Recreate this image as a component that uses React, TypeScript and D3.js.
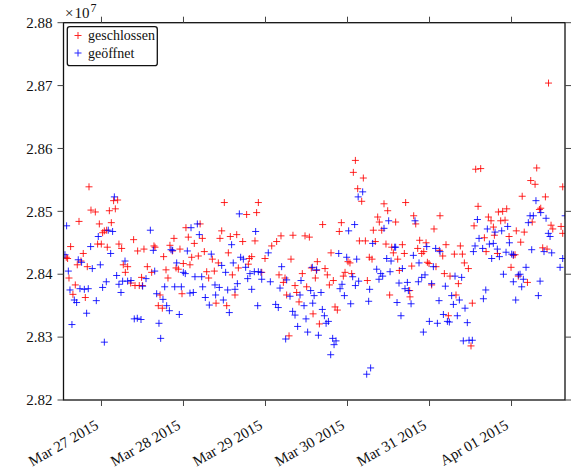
// App.tsx
// Scatter of two series (geschlossen / geöffnet) over dates, matplotlib-like look
import React, { useEffect, useRef } from "react";
import * as d3 from "d3";

// [days since 2015-03-26 00:00 UTC, value in units of 1e7]
const geschlossen: [number, number][] = [
  [0.848, 2.8539], [1.148, 2.8517], [1.197, 2.8518], [1.169, 2.8504], [0.872, 2.8502], [0.925, 2.8499],
  [1.096, 2.8501], [0.726, 2.8484], [0.974, 2.848], [1.12, 2.8482], [1.035, 2.8469], [1.014, 2.8466],
  [1.063, 2.847], [1.392, 2.8455], [0.624, 2.8444], [0.953, 2.8448], [0.998, 2.8448], [1.071, 2.8443],
  [1.213, 2.8448], [1.246, 2.8441], [1.441, 2.8437], [0.778, 2.8433], [0.571, 2.8427], [0.587, 2.8425],
  [0.705, 2.8415], [0.75, 2.8421], [0.827, 2.8412], [1.266, 2.8415], [1.319, 2.8412], [1.291, 2.8403],
  [0.604, 2.8394], [0.681, 2.8383], [1.356, 2.8386], [1.409, 2.8382], [1.461, 2.8382], [0.652, 2.8368],
  [0.803, 2.8363], [1.498, 2.8382], [1.489, 2.8395],
  [2.498, 2.8514], [2.203, 2.848], [2.03, 2.8474], [1.884, 2.8457], [2.059, 2.8459], [2.23, 2.8457],
  [2.466, 2.8469], [2.445, 2.8457], [2.132, 2.8449], [1.518, 2.844], [1.64, 2.8445], [1.653, 2.8443],
  [1.835, 2.8446], [1.864, 2.8437], [1.957, 2.844], [2.254, 2.8436], [1.758, 2.8428], [2.1, 2.8427],
  [2.181, 2.8429], [2.352, 2.8424], [2.425, 2.8418], [1.998, 2.8417], [2.079, 2.8415], [1.559, 2.8412],
  [1.787, 2.8407], [1.909, 2.841], [1.937, 2.8408], [1.612, 2.8403], [2.283, 2.8404], [2.376, 2.8405],
  [1.811, 2.8394], [2.307, 2.8394], [1.982, 2.8369], [1.714, 2.8367], [2.397, 2.8354], [1.693, 2.835],
  [1.742, 2.8346],
  [2.913, 2.8514], [2.77, 2.8495], [2.892, 2.8498], [2.571, 2.846], [2.649, 2.8463], [2.722, 2.8452],
  [2.872, 2.8453], [3.189, 2.8461], [3.335, 2.8462], [3.482, 2.8461], [3.535, 2.8459], [3.136, 2.8452],
  [3.076, 2.8445], [2.547, 2.8434], [2.832, 2.8428], [2.803, 2.8425], [2.994, 2.8425], [3.311, 2.8424],
  [2.669, 2.841], [2.791, 2.8416], [2.596, 2.8399], [2.954, 2.8403], [3.165, 2.8399], [3.449, 2.8401],
  [3.218, 2.8387], [3.36, 2.8382], [3.502, 2.838], [2.628, 2.8367], [2.527, 2.835], [3.258, 2.8367],
  [3.38, 2.8371], [3.409, 2.8356], [3.287, 2.8302], [3.238, 2.8394],
  [4.096, 2.8581], [4.071, 2.8562], [4.193, 2.8553], [4.124, 2.8536], [4.173, 2.8516], [4.445, 2.8512],
  [4.49, 2.8501], [4.368, 2.8491], [4.388, 2.8483], [3.697, 2.8479], [3.925, 2.8482], [3.9, 2.8468],
  [4.315, 2.847], [4.417, 2.847], [4.145, 2.8453], [4.218, 2.8453], [4.339, 2.8452], [4.469, 2.8448],
  [4.539, 2.8443], [4.559, 2.8434], [3.799, 2.8434], [3.632, 2.842], [4.006, 2.842], [4.03, 2.8418],
  [4.266, 2.8427], [4.299, 2.8424], [3.559, 2.841], [3.726, 2.8409], [3.62, 2.8406], [3.754, 2.8399],
  [3.97, 2.8403], [3.949, 2.8397], [4.051, 2.8401], [3.608, 2.8394], [3.827, 2.839], [3.779, 2.8383],
  [4.242, 2.839], [4.514, 2.8367], [3.58, 2.8337], [3.657, 2.8321], [3.848, 2.8348], [3.876, 2.8343],
  [5.563, 2.8567], [5.624, 2.8568], [4.709, 2.8514], [5.592, 2.8508], [4.807, 2.8493], [4.832, 2.848],
  [5.128, 2.8493], [5.055, 2.8472], [5.543, 2.8477], [4.587, 2.8483], [4.88, 2.8454], [4.958, 2.845],
  [4.669, 2.8447], [4.856, 2.8441], [4.905, 2.8433], [4.93, 2.8436], [5.201, 2.8447], [5.376, 2.8445],
  [4.693, 2.8433], [4.612, 2.8424], [5.12, 2.8438], [5.161, 2.8429], [5.303, 2.8432], [5.401, 2.8432],
  [4.974, 2.8419], [4.994, 2.8417], [5.079, 2.8412], [5.425, 2.8418], [5.474, 2.8409], [4.632, 2.8406],
  [4.783, 2.8413], [5.181, 2.8401], [5.25, 2.8397], [5.352, 2.8385], [5.026, 2.8383], [4.758, 2.8374],
  [4.762, 2.8364], [5.323, 2.8367], [5.522, 2.8354], [5.23, 2.8334], [5.506, 2.8286],
  [6.307, 2.8569], [6.234, 2.8549], [6.287, 2.8543], [6.13, 2.8524], [6.413, 2.8523], [6.356, 2.8505],
  [6.34, 2.8503], [5.718, 2.8491], [5.75, 2.8485], [5.84, 2.8499], [5.892, 2.85], [5.941, 2.8504],
  [5.868, 2.8485], [5.921, 2.8486], [5.779, 2.8475], [6.058, 2.8469], [6.155, 2.8467], [6.252, 2.8483],
  [5.669, 2.8458], [5.791, 2.8462], [5.97, 2.846], [6.112, 2.8451], [6.503, 2.8472], [6.482, 2.8478],
  [6.604, 2.8476], [6.624, 2.8465], [5.69, 2.8436], [5.828, 2.8433], [6.022, 2.843], [6.043, 2.8431],
  [6.38, 2.8442], [6.433, 2.844], [5.994, 2.8411], [6.083, 2.8397], [6.194, 2.8387], [6.624, 2.8539],
  [6.451, 2.8704],
];

const geoeffnet: [number, number][] = [
  [1.157, 2.8523], [0.575, 2.8477], [0.961, 2.846], [1.083, 2.847], [1.136, 2.8468], [0.868, 2.8444],
  [1.112, 2.8433], [0.555, 2.8431], [0.717, 2.8423], [0.758, 2.8419], [1.287, 2.8421], [0.986, 2.8415],
  [0.888, 2.8409], [0.596, 2.8405], [1.185, 2.8398], [1.059, 2.8388], [1.258, 2.8389], [1.319, 2.8389],
  [1.36, 2.839], [1.213, 2.8384], [0.616, 2.8375], [0.738, 2.8377], [0.791, 2.8376], [0.839, 2.8377],
  [1.014, 2.8379], [1.238, 2.8371], [0.669, 2.8359], [0.697, 2.8355], [0.937, 2.8358], [0.819, 2.8338],
  [0.64, 2.832], [1.4, 2.8329], [1.437, 2.833], [1.035, 2.8292],
  [1.596, 2.847], [2.169, 2.848], [2.092, 2.8474], [2.193, 2.8463], [1.632, 2.8438], [1.848, 2.8439],
  [1.868, 2.8438], [2.047, 2.8437], [2.339, 2.8432], [2.466, 2.8414], [1.917, 2.8418], [1.998, 2.8403],
  [2.022, 2.8401], [1.649, 2.8405], [1.543, 2.8393], [1.502, 2.8381], [2.14, 2.8396], [2.222, 2.8396],
  [1.771, 2.838], [1.893, 2.838], [1.974, 2.838], [2.234, 2.838], [2.384, 2.8383], [2.437, 2.8379],
  [1.673, 2.8369], [2.079, 2.837], [2.12, 2.8371], [2.392, 2.8367], [1.75, 2.836], [2.266, 2.8363],
  [2.486, 2.8359], [1.795, 2.835], [1.828, 2.8342], [2.315, 2.8351], [1.949, 2.8336], [1.482, 2.8328],
  [1.701, 2.8322], [1.722, 2.8298],
  [2.681, 2.8496], [2.88, 2.8468], [2.587, 2.8447], [2.697, 2.8427], [2.73, 2.8424], [2.607, 2.8418],
  [2.758, 2.8411], [2.514, 2.8403], [2.811, 2.8401], [2.864, 2.8404], [2.913, 2.8404], [2.945, 2.8403],
  [3.034, 2.8434], [2.954, 2.8392], [2.783, 2.8393], [2.657, 2.8385], [2.628, 2.8376], [2.539, 2.8375],
  [2.832, 2.8376], [3.059, 2.8388], [3.197, 2.8412], [3.177, 2.8378], [3.258, 2.8391], [3.299, 2.8365],
  [3.433, 2.839], [3.421, 2.8367], [3.47, 2.835], [2.559, 2.8339], [2.905, 2.835], [3.124, 2.8352],
  [3.156, 2.8347], [3.331, 2.8341], [3.36, 2.8335], [3.494, 2.8329], [3.392, 2.8317], [3.514, 2.8308],
  [3.246, 2.8297],
  [4.185, 2.8531], [4.13, 2.8523], [4.087, 2.8479], [4.014, 2.8469], [4.502, 2.8485], [4.445, 2.8473],
  [4.307, 2.8449], [4.575, 2.8443], [3.893, 2.8433], [3.99, 2.8427], [4.112, 2.8424], [4.478, 2.8425],
  [4.531, 2.8421], [3.571, 2.8411], [3.624, 2.8407], [4.063, 2.8396], [4.356, 2.8408], [4.405, 2.8401],
  [4.429, 2.8397], [4.519, 2.8404], [4.384, 2.8392], [3.933, 2.8384], [3.909, 2.8377], [3.677, 2.8371],
  [3.551, 2.8374], [3.593, 2.8366], [4.136, 2.8389], [4.096, 2.8382], [4.27, 2.8376], [3.962, 2.8366],
  [3.576, 2.8354], [4.039, 2.8353], [4.258, 2.8357], [3.693, 2.8344], [3.718, 2.8334], [3.767, 2.8325],
  [3.739, 2.8322], [3.645, 2.8303], [3.819, 2.8298], [3.86, 2.8294], [3.836, 2.8288], [3.795, 2.8272],
  [4.282, 2.8251], [4.234, 2.8241],
  [5.584, 2.8487], [4.823, 2.8485], [5.604, 2.8457], [5.555, 2.8445], [5.535, 2.8436], [4.587, 2.8443],
  [4.966, 2.8444], [5.075, 2.8441], [5.128, 2.8436], [4.803, 2.843], [4.872, 2.8418], [4.669, 2.8409],
  [5.047, 2.8412], [4.945, 2.8399], [4.905, 2.8395], [4.864, 2.8388], [5.311, 2.8397], [5.392, 2.8395],
  [4.628, 2.8386], [4.73, 2.8387], [4.701, 2.8377], [4.742, 2.8374], [5.026, 2.8385], [5.193, 2.8381],
  [5.27, 2.8366], [5.291, 2.8352], [5.364, 2.8359], [5.116, 2.8358], [5.433, 2.8346], [4.604, 2.8355],
  [4.775, 2.8353], [4.652, 2.8334], [5.169, 2.8336], [5.339, 2.8334], [4.998, 2.8325], [5.096, 2.8322],
  [5.218, 2.8325], [5.242, 2.8324], [5.461, 2.8323], [4.925, 2.8308], [5.412, 2.8294], [5.482, 2.8295],
  [5.522, 2.8295],
  [6.298, 2.8517], [6.356, 2.8498], [6.266, 2.8493], [6.226, 2.8493], [6.205, 2.8482], [6.421, 2.8489],
  [6.449, 2.8465], [6.47, 2.846], [5.705, 2.8472], [5.799, 2.8467], [5.88, 2.8469], [5.953, 2.8476],
  [5.73, 2.8448], [5.778, 2.8449], [5.974, 2.845], [5.648, 2.8441], [5.827, 2.844], [5.758, 2.8425],
  [5.852, 2.8428], [5.933, 2.8435], [6.002, 2.8432], [6.022, 2.8431], [6.246, 2.8439], [6.396, 2.8436],
  [6.49, 2.8434], [6.624, 2.8425], [6.592, 2.8411], [6.177, 2.8411], [5.901, 2.84], [6.022, 2.8388],
  [6.083, 2.8399], [6.104, 2.84], [6.144, 2.8392], [6.124, 2.838], [6.348, 2.8389], [5.686, 2.8375],
  [5.657, 2.8361], [6.051, 2.8359], [6.327, 2.8366], [6.654, 2.8493],
];

const seriesNames = ["geschlossen", "geöffnet"];
const seriesColors = ["#ff0000", "#0000ff"];
const xDomainDays: [number, number] = [0.537, 6.652];
const yTicks = [2.82, 2.83, 2.84, 2.85, 2.86, 2.87, 2.88];

const BASE = Date.UTC(2015, 2, 26);
const toDate = (d: number) => new Date(BASE + d * 86400000);

export default function App() {
  const svgRef = useRef<SVGSVGElement>(null);

  useEffect(() => {
    if (!svgRef.current) return;
    const width = 579, height = 474;
    const left = 63.5, right = 565, top = 22.7, bottom = 400;
    const font = "Liberation Serif, DejaVu Serif, serif";

    const svg = d3.select(svgRef.current);
    svg.selectAll("*").remove();
    svg.attr("width", width).attr("height", height);

    const x = d3.scaleUtc()
      .domain([toDate(xDomainDays[0]), toDate(xDomainDays[1])])
      .range([left, right]);
    const y = d3.scaleLinear()
      .domain([yTicks[0], yTicks[yTicks.length - 1]])
      .range([bottom, top]);

    svg.append("defs").append("clipPath").attr("id", "plotclip")
      .append("rect")
      .attr("x", left).attr("y", top)
      .attr("width", right - left).attr("height", bottom - top);

    // Markers: '+'
    const plus = (g: d3.Selection<SVGGElement, unknown, null, undefined>, data: [number, number][], color: string) => {
      const s = 3.5;
      g.selectAll("path")
        .data(data)
        .enter()
        .append("path")
        .attr("d", (d) => {
          const px = x(toDate(d[0])), py = y(d[1]);
          return `M${px - s},${py}H${px + s}M${px},${py - s}V${py + s}`;
        })
        .attr("stroke", color)
        .attr("stroke-width", 1)
        .attr("opacity", 0.85)
        .attr("fill", "none");
    };
    const pts = svg.append("g").attr("clip-path", "url(#plotclip)");
    plus(pts.append("g"), geschlossen, seriesColors[0]);
    plus(pts.append("g"), geoeffnet, seriesColors[1]);

    // Frame
    svg.append("rect")
      .attr("x", left).attr("y", top)
      .attr("width", right - left).attr("height", bottom - top)
      .attr("fill", "none").attr("stroke", "#111").attr("stroke-width", 1.3);

    // Ticks (outside, all four sides)
    const tickLen = 6;
    const xTicks = x.ticks(d3.utcDay.every(1)!).filter((d) => x(d) > left && x(d) < right);
    const tg = svg.append("g").attr("stroke", "#444").attr("stroke-width", 1);
    xTicks.forEach((d) => {
      const px = x(d);
      tg.append("line").attr("x1", px).attr("x2", px).attr("y1", bottom).attr("y2", bottom + tickLen);
      tg.append("line").attr("x1", px).attr("x2", px).attr("y1", top).attr("y2", top - tickLen);
    });
    yTicks.forEach((v) => {
      const py = y(v);
      tg.append("line").attr("x1", left - tickLen).attr("x2", left).attr("y1", py).attr("y2", py);
      tg.append("line").attr("x1", right).attr("x2", right + tickLen).attr("y1", py).attr("y2", py);
    });

    // Y tick labels
    svg.append("g").selectAll("text")
      .data(yTicks)
      .enter()
      .append("text")
      .attr("x", left - tickLen - 5)
      .attr("y", (v) => y(v))
      .attr("dy", "0.35em")
      .attr("text-anchor", "end")
      .style("font-family", font)
      .attr("font-size", 15)
      .attr("fill", "#111")
      .text((v) => d3.format(".2f")(v));

    // X tick labels, rotated
    const fmt = d3.utcFormat("%b %d %Y");
    svg.append("g").selectAll("text")
      .data(xTicks)
      .enter()
      .append("text")
      .attr("transform", (d) => `translate(${x(d) - 2},${bottom + 28}) rotate(-30)`)
      .attr("text-anchor", "end")
      .style("font-family", font)
      .attr("font-size", 15)
      .attr("fill", "#111")
      .text((d) => fmt(d));

    // Offset text ×10^7
    const off = svg.append("text")
      .attr("x", left + 1.5).attr("y", 18)
      .style("font-family", font).attr("font-size", 15).attr("fill", "#111");
    off.append("tspan").text("×");
    off.append("tspan").attr("dx", 1).text("10");
    off.append("tspan").attr("dx", 1).attr("dy", -6).attr("font-size", 12).text("7");

    // Legend
    const lg = svg.append("g");
    lg.append("rect")
      .attr("x", 67.3).attr("y", 26.7)
      .attr("width", 90).attr("height", 39)
      .attr("rx", 2.5)
      .attr("fill", "#fff").attr("stroke", "#111").attr("stroke-width", 1.3);
    seriesNames.forEach((name, i) => {
      const cy = 35.5 + i * 17.5;
      lg.append("path")
        .attr("d", `M${78 - 3.5},${cy}H${78 + 3.5}M78,${cy - 3.5}V${cy + 3.5}`)
        .attr("stroke", seriesColors[i]).attr("stroke-width", 1).attr("opacity", 0.85);
      lg.append("text")
        .attr("x", 88).attr("y", cy + 4.5)
        .style("font-family", font).attr("font-size", 14).attr("fill", "#111")
        .text(name);
    });
  }, []);

  return (
    <div style={{ position: "absolute", left: 0, top: 0 }}>
      <svg ref={svgRef} width={579} height={474} style={{ display: "block", background: "#fff" }} />
    </div>
  );
}
